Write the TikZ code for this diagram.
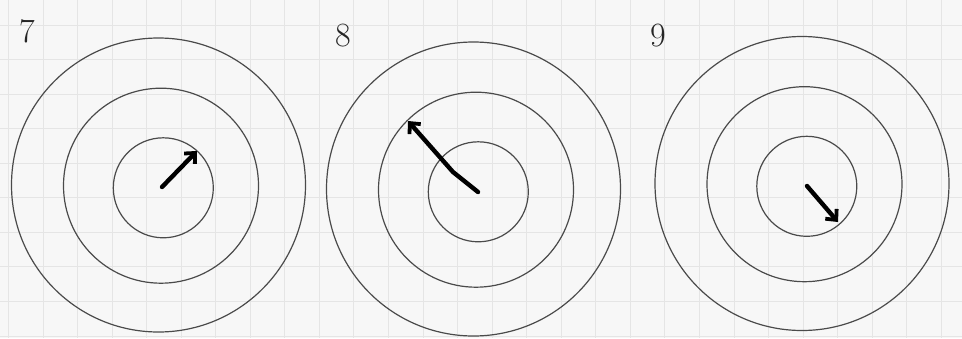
\documentclass[tikz,border=0pt]{standalone}
\usepackage{tikz}
\usetikzlibrary{arrows.meta}
\definecolor{paper}{HTML}{F7F7F7}
\definecolor{gridline}{HTML}{E5E5E5}
\definecolor{ring}{HTML}{4A4A4A}

\begin{document}
\begin{tikzpicture}[x=1pt, y=-1pt, ring/.style={draw=ring, line width=1.2pt}, pointer/.style={line width=4.4pt, line cap=round, line join=round, -{Straight Barb[length=8pt, width=15pt, line width=3.8pt]}}, digit/.style={text=black!85, font=\fontsize{34}{34}\selectfont}]
	\fill[paper] (0,0) rectangle (962,338);
	\useasboundingbox (0,0) rectangle (962,338);
	\foreach \gx in {0,...,27} \draw[gridline, line width=0.9pt] ({8.4+34.55*\gx},0) -- ++(0,338);
	\foreach \gy in {0,...,9} \draw[gridline, line width=0.9pt] (0,{25+34.55*\gy}) -- ++(962,0);
	\foreach \ox/\oy in {158.5/185, 473.5/189, 802/183.5} {
		\draw[ring] (\ox,\oy) circle[radius=147];
		\draw[ring] ({\ox+2.5},{\oy+0.7}) circle[radius=97.5];
		\draw[ring] ({\ox+4.8},{\oy+2.8}) circle[radius=50];
	}
	\node[digit] (n7) at (27,31) {7};
	\node[digit] (n8) at (343,36) {8};
	\node[digit] (n9) at (658,36) {9};
	\coordinate (c7) at (162,187); \coordinate (t7) at (197,151);
	\coordinate (c8) at (478,192); \coordinate (b8) at (453,172); \coordinate (t8) at (408,121);
	\coordinate (c9) at (807,186); \coordinate (t9) at (838,222);
	\draw[pointer] (c7) -- (t7);
	\draw[pointer] (c8) -- (b8) -- (t8);
	\draw[pointer] (c9) -- (t9);
\end{tikzpicture}
\end{document}
